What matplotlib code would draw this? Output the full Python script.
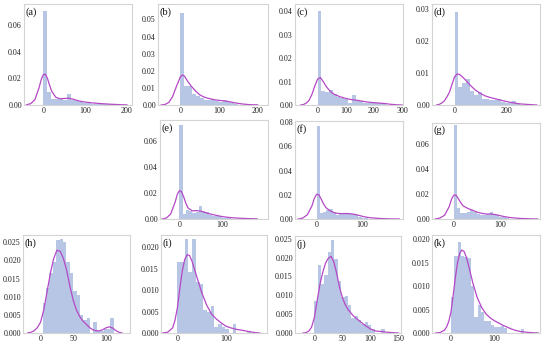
import numpy as np
import matplotlib
matplotlib.use("Agg")
import matplotlib.pyplot as plt

# ---------------- data ----------------
labels = ["(a)", "(b)", "(c)", "(d)", "(e)", "(f)", "(g)", "(h)", "(i)", "(j)", "(k)"]

# (a)
a_start, a_width = 0, 9.5
a_heights = [0.071, 0.0098, 0.0045, 0.0042, 0.0045, 0.004, 0.0080, 0.004, 0.0028, 0.002,
             0.0015, 0.0012, 0.001, 0.001, 0.0008, 0.0006, 0.0005, 0.0004, 0.0003, 0.0003]
a_kx = [-40, -30, -20, -10, -5, 0, 5, 10, 15, 20, 30, 40, 50, 60, 70, 80, 90, 100, 120, 140, 160, 180, 200]
a_ky = [0.0002, 0.001, 0.004, 0.013, 0.019, 0.0228, 0.0232, 0.020, 0.015, 0.0105, 0.0058, 0.0047,
        0.0049, 0.0051, 0.0045, 0.0035, 0.0027, 0.0022, 0.0015, 0.001, 0.0006, 0.0003, 0.0001]

# (b)
b_start, b_width = 0, 10
b_heights = [0.054, 0.011, 0.011, 0.0065, 0.005, 0.004, 0.003, 0.003, 0.0035, 0.0025,
             0.002, 0.003, 0.0015, 0.001, 0.0005]
b_kx = [-50, -40, -30, -20, -10, 0, 5, 10, 20, 30, 40, 50, 60, 70, 80, 90, 100, 110, 120, 130, 140, 160, 180, 200]
b_ky = [0, 0.0003, 0.0015, 0.005, 0.011, 0.0165, 0.0175, 0.017, 0.0135, 0.0105, 0.008, 0.006,
        0.0048, 0.004, 0.0035, 0.003, 0.0027, 0.0025, 0.0022, 0.0018, 0.0013, 0.0006, 0.0002, 0.0001]

# (c)
c_start, c_width = 0, 13.5
c_heights = [0.040, 0.006, 0.0055, 0.0065, 0.0045, 0.0035, 0.003, 0.0027, 0.001, 0.0042,
             0.002, 0.0015, 0.001, 0.0008, 0.0008, 0.0008, 0.0007, 0.0005]
c_kx = [-60, -50, -40, -30, -20, -10, 0, 10, 20, 30, 40, 50, 60, 80, 100, 120, 140, 160, 180,
        200, 220, 240, 260, 280, 300]
c_ky = [0, 0.0002, 0.0008, 0.002, 0.0045, 0.008, 0.011, 0.0117, 0.010, 0.008, 0.0065, 0.0053,
        0.0045, 0.0035, 0.0028, 0.0023, 0.002, 0.0016, 0.0012, 0.001, 0.0008, 0.0006, 0.0003, 0.0001, 0]

# (d)
d_start, d_width = 0, 15
d_heights = [0.029, 0.0056, 0.0068, 0.0082, 0.0045, 0.003, 0.004, 0.002, 0.002, 0.0015,
             0.0015, 0.002, 0.001, 0.0005, 0.0005, 0.0012, 0.0003]
d_kx = [-70, -60, -50, -40, -30, -20, -10, 0, 10, 20, 30, 40, 60, 80, 100, 120, 140, 160, 180,
        200, 220, 240, 260, 280, 300, 320]
d_ky = [0, 0.0002, 0.0006, 0.0013, 0.0025, 0.004, 0.0065, 0.0088, 0.0097, 0.0095, 0.0088, 0.008,
        0.0062, 0.0047, 0.0036, 0.0028, 0.0023, 0.0019, 0.0015, 0.0011, 0.0008, 0.0005, 0.0003,
        0.0002, 0.0001, 0]

# (e)
e_start, e_width = 0, 7.5
e_heights = [0.073, 0.004, 0.007, 0.006, 0.0045, 0.0055, 0.0098, 0.0065, 0.0055, 0.003,
             0.0025, 0.002, 0.0025, 0.001, 0.0005, 0.0005]
e_kx = [-40, -30, -20, -10, -5, 0, 5, 10, 15, 20, 30, 40, 50, 60, 70, 80, 90, 100, 120, 140, 160, 180]
e_ky = [0, 0.0008, 0.004, 0.013, 0.019, 0.022, 0.021, 0.017, 0.012, 0.0085, 0.0063, 0.0065, 0.006,
        0.005, 0.004, 0.0032, 0.0025, 0.0018, 0.001, 0.0006, 0.0003, 0.0001]

# (f)
f_start, f_width = 0, 7
f_heights = [0.077, 0.005, 0.006, 0.0078, 0.0085, 0.006, 0.003, 0.004, 0.004, 0.0045,
             0.0045, 0.0042, 0.0035, 0.002, 0.001, 0.0005]
f_kx = [-40, -30, -20, -10, -5, 0, 5, 10, 15, 20, 30, 40, 50, 60, 70, 80, 90, 100, 110, 120, 140, 160, 180]
f_ky = [0, 0.0008, 0.0035, 0.011, 0.017, 0.0205, 0.020, 0.0165, 0.0125, 0.0095, 0.0065, 0.005,
        0.0045, 0.0045, 0.0045, 0.004, 0.0032, 0.0022, 0.0014, 0.0009, 0.0004, 0.0001, 0]

# (g)
g_start, g_width = 0, 7
g_heights = [0.075, 0.0085, 0.005, 0.005, 0.0055, 0.0075, 0.006, 0.004, 0.0035, 0.0035,
             0.004, 0.006, 0.004, 0.003, 0.002, 0.002, 0.001]
g_kx = [-40, -30, -20, -10, -5, 0, 5, 10, 15, 20, 30, 40, 50, 60, 70, 80, 90, 100, 110, 120, 140, 160, 180]
g_ky = [0, 0.0008, 0.003, 0.010, 0.016, 0.0192, 0.019, 0.016, 0.013, 0.0105, 0.0085, 0.007,
        0.0055, 0.0045, 0.004, 0.004, 0.0035, 0.0026, 0.0018, 0.0012, 0.0005, 0.0002, 0]

# (h)
h_start, h_width = 3, 5.2
h_heights = [0.0082, 0.0125, 0.0165, 0.0195, 0.0255, 0.026, 0.025, 0.0195, 0.0165, 0.0115,
             0.0105, 0.005, 0.0035, 0.004, 0.0, 0.003, 0.0005, 0.0005, 0.001, 0.001, 0.004]
h_kx = [-20, -15, -10, -5, 0, 5, 10, 15, 20, 25, 30, 35, 40, 45, 50, 55, 60, 65, 70, 75, 80, 85,
        90, 95, 100, 105, 110, 115, 120, 125]
h_ky = [0, 0.0002, 0.0006, 0.0015, 0.003, 0.0065, 0.0115, 0.0165, 0.0205, 0.0228, 0.0225, 0.0205,
        0.0172, 0.0128, 0.009, 0.0063, 0.0045, 0.0033, 0.0024, 0.0015, 0.0009, 0.0006, 0.0006,
        0.0009, 0.0014, 0.0017, 0.0014, 0.0007, 0.0002, 0]

# (i)
i_start, i_width = 0, 7.6
i_heights = [0.0165, 0.0165, 0.022, 0.0143, 0.022, 0.012, 0.0115, 0.0054, 0.005, 0.0063,
             0.0015, 0.002, 0.0015, 0.001, 0, 0.002, 0, 0, 0, 0.0005]
i_kx = [-30, -20, -10, -5, 0, 5, 10, 15, 20, 25, 30, 35, 40, 50, 60, 70, 80, 90, 100, 110, 120,
        130, 140, 150, 160, 170]
i_ky = [0, 0.0002, 0.0012, 0.003, 0.006, 0.0105, 0.0145, 0.0172, 0.0183, 0.0181, 0.0168, 0.015,
        0.0131, 0.0095, 0.0066, 0.0045, 0.0033, 0.0024, 0.0016, 0.0012, 0.0009, 0.0007, 0.0005,
        0.0003, 0.0001, 0]

# (j)
j_start, j_width = 0, 6
j_heights = [0.0085, 0.0181, 0.0129, 0.0154, 0.0215, 0.0247, 0.0195, 0.0138, 0.0095, 0.0099,
             0.0075, 0.004, 0.0045, 0.0035, 0.0025, 0.003, 0.002, 0.001, 0, 0, 0.001]
j_kx = [-20, -15, -10, -5, 0, 5, 10, 15, 20, 25, 30, 35, 40, 45, 50, 55, 60, 70, 80, 90, 100,
        110, 120, 130, 140, 150]
j_ky = [0, 0.0001, 0.0005, 0.0015, 0.004, 0.0085, 0.0128, 0.016, 0.0185, 0.0198, 0.0203, 0.0188,
        0.0158, 0.0122, 0.0095, 0.0076, 0.0063, 0.0045, 0.0033, 0.0021, 0.0011, 0.0005, 0.0004,
        0.0002, 0.0001, 0]

# (k)
k_start, k_width = 0, 7.6
k_heights = [0.0076, 0.0165, 0.0195, 0.0165, 0.0162, 0.0161, 0.010, 0.0035, 0.006, 0.0045,
             0.0025, 0.0025, 0.0018, 0.0012, 0.0012, 0.0015, 0.001, 0, 0, 0, 0, 0.0008]
k_kx = [-35, -25, -15, -10, -5, 0, 5, 10, 15, 20, 25, 30, 35, 40, 50, 60, 70, 80, 90, 100, 110,
        120, 130, 140, 150, 160, 180, 200]
k_ky = [0, 0.0001, 0.0006, 0.0013, 0.0025, 0.0045, 0.008, 0.0118, 0.015, 0.017, 0.0177, 0.0174,
        0.0162, 0.0145, 0.0107, 0.0076, 0.0055, 0.0041, 0.0032, 0.0026, 0.0021, 0.0016, 0.0012,
        0.0008, 0.0005, 0.0003, 0.0001, 0]

# tick labels
a_xt, a_yt = [0, 100, 200], [0.00, 0.02, 0.04, 0.06]
b_xt, b_yt = [0, 100, 200], [0.00, 0.01, 0.02, 0.03, 0.04, 0.05]
c_xt, c_yt = [0, 100, 200, 300], [0.00, 0.01, 0.02, 0.03, 0.04]
d_xt, d_yt = [0, 200], [0.00, 0.01, 0.02, 0.03]
e_xt, e_yt = [0, 100], [0.00, 0.02, 0.04, 0.06]
f_xt, f_yt = [0, 100], [0.00, 0.02, 0.04, 0.06, 0.08]
g_xt, g_yt = [0, 100], [0.00, 0.02, 0.04, 0.06]
h_xt, h_yt = [0, 50, 100], [0.000, 0.005, 0.010, 0.015, 0.020, 0.025]
i_xt, i_yt = [0, 100], [0.000, 0.005, 0.010, 0.015, 0.020]
j_xt, j_yt = [0, 50, 100, 150], [0.000, 0.005, 0.010, 0.015, 0.020, 0.025]
k_xt, k_yt = [0, 100], [0.000, 0.005, 0.010, 0.015, 0.020]

# ---------------- layout / style ----------------
W, H = 550, 346
# pixel boxes (left, top, right, bottom), axis limits, y tick format
layout = {
    "(a)": ((24, 4, 132, 105), (-46, 212), (0, 0.076), "%.2f"),
    "(b)": ((158, 4, 268, 105), (-58, 227), (0, 0.059), "%.2f"),
    "(c)": ((295, 4, 403, 105), (-80, 303), (0, 0.043), "%.2f"),
    "(d)": ((432, 4, 540, 105), (-88, 332), (0, 0.0315), "%.2f"),
    "(e)": ((160, 120, 268, 219), (-45, 205), (0, 0.0766), "%.2f"),
    "(f)": ((295, 121, 403, 219), (-47, 188), (0, 0.081), "%.2f"),
    "(g)": ((432, 123, 540, 219), (-47, 185), (0, 0.077), "%.2f"),
    "(h)": ((23, 235, 130, 333), (-27, 137), (0, 0.027), "%.3f"),
    "(i)": ((161, 235, 267, 333), (-34, 185), (0, 0.0229), "%.3f"),
    "(j)": ((295, 236, 401, 333), (-34.5, 155), (0, 0.0257), "%.3f"),
    "(k)": ((432, 235, 540, 333), (-43.5, 204), (0, 0.0209), "%.3f"),
}

panels = [
    (a_start, a_width, a_heights, a_kx, a_ky, a_xt, a_yt),
    (b_start, b_width, b_heights, b_kx, b_ky, b_xt, b_yt),
    (c_start, c_width, c_heights, c_kx, c_ky, c_xt, c_yt),
    (d_start, d_width, d_heights, d_kx, d_ky, d_xt, d_yt),
    (e_start, e_width, e_heights, e_kx, e_ky, e_xt, e_yt),
    (f_start, f_width, f_heights, f_kx, f_ky, f_xt, f_yt),
    (g_start, g_width, g_heights, g_kx, g_ky, g_xt, g_yt),
    (h_start, h_width, h_heights, h_kx, h_ky, h_xt, h_yt),
    (i_start, i_width, i_heights, i_kx, i_ky, i_xt, i_yt),
    (j_start, j_width, j_heights, j_kx, j_ky, j_xt, j_yt),
    (k_start, k_width, k_heights, k_kx, k_ky, k_xt, k_yt),
]

plt.rcParams['font.family'] = ['Liberation Serif', 'DejaVu Serif']

fig = plt.figure(figsize=(W / 100, H / 100), dpi=100)
fig.patch.set_facecolor("white")

bar_color = "#b6c6e4"
kde_color = "#b548c6"
spine_color = "#d4d4d4"

for lab, (start, width, heights, kx, ky, xt, yt) in zip(labels, panels):
    (L, T, R, B), xl, yl, fmt = layout[lab]
    ax = fig.add_axes([L / W, 1 - B / H, (R - L) / W, (B - T) / H])
    edges = start + width * np.arange(len(heights) + 1)
    ax.stairs(heights, edges, fill=True, color=bar_color, linewidth=0)
    ax.plot(kx, ky, color=kde_color, linewidth=0.9)
    ax.set_xlim(*xl)
    ax.set_ylim(*yl)
    ax.set_xticks(xt)
    ax.set_yticks(yt)
    ax.set_xticklabels([str(v) for v in xt])
    ax.set_yticklabels([fmt % v for v in yt])
    ax.tick_params(length=0, labelsize=5.8, pad=1.5, colors="#222222")
    for s in ax.spines.values():
        s.set_color(spine_color)
        s.set_linewidth(0.8)
    ax.text(0.015, 0.97, lab, transform=ax.transAxes, ha="left", va="top",
            fontsize=7.5, color="#111111")

fig.savefig("out.png", dpi=100, facecolor="white")
